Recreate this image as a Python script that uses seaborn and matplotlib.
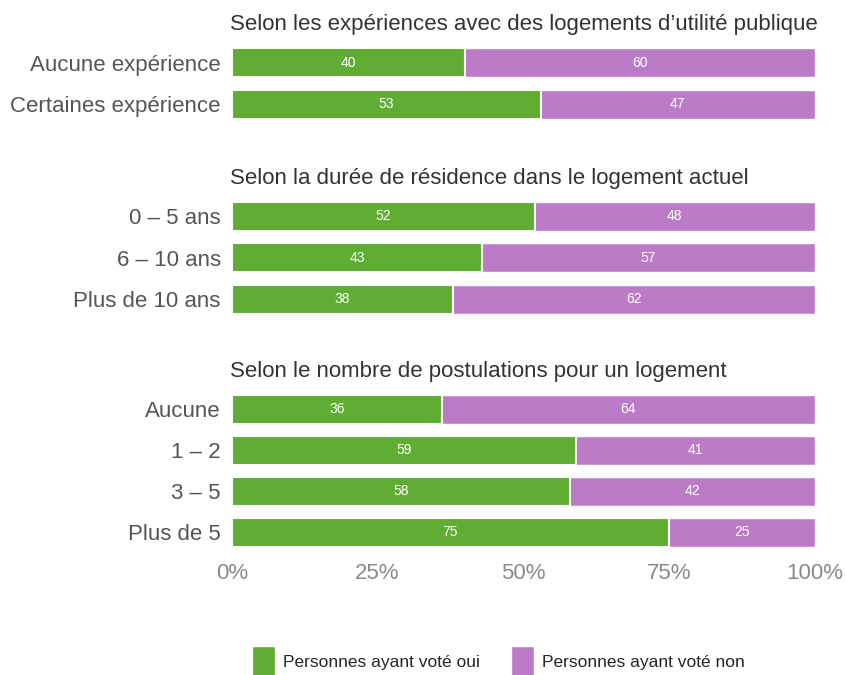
import matplotlib
matplotlib.use("Agg")
import matplotlib.pyplot as plt
from matplotlib.patches import Patch
import pandas as pd
import seaborn as sns

# ---------------------------------------------------------------------------
# Data
# ---------------------------------------------------------------------------
group_titles = [
    "Selon les expériences avec des logements d\u2019utilité publique",
    "Selon la durée de résidence dans le logement actuel",
    "Selon le nombre de postulations pour un logement",
]
group_cats = [
    ["Aucune expérience", "Certaines expérience"],
    ["0 \u2013 5 ans", "6 \u2013 10 ans", "Plus de 10 ans"],
    ["Aucune", "1 \u2013 2", "3 \u2013 5", "Plus de 5"],
]
yes_vals = [[40, 53], [52, 43, 38], [36, 59, 58, 75]]
no_vals = [[60, 47], [48, 57, 62], [64, 41, 42, 25]]
x_ticks = [0, 25, 50, 75, 100]
x_ticklabels = ["0%", "25%", "50%", "75%", "100%"]
legend_labels = ["Personnes ayant voté oui", "Personnes ayant voté non"]

GREEN = "#60AD34"
PURPLE = "#BB7BC6"
LABEL = "#555555"
TITLE = "#333333"
FS = 16

sns.set_style("white")
plt.rcParams["font.family"] = ["Liberation Sans", "DejaVu Sans"]

fig = plt.figure(figsize=(8.46, 6.75), dpi=100)
fig.patch.set_facecolor("white")

# axes boxes in figure fraction: [left, bottom, width, height]
boxes = [
    [0.274, 0.815, 0.689, 0.123],
    [0.274, 0.526, 0.689, 0.184],
    [0.274, 0.181, 0.689, 0.243],
]

for k, (title, cats, yes, no) in enumerate(zip(group_titles, group_cats, yes_vals, no_vals)):
    ax = fig.add_axes(boxes[k])
    df = pd.DataFrame({"cat": cats, "yes": yes, "no": no})
    df["total"] = df["yes"] + df["no"]

    sns.barplot(data=df, x="total", y="cat", orient="h", color=PURPLE,
                width=0.70, saturation=1, ax=ax)
    sns.barplot(data=df, x="yes", y="cat", orient="h", color=GREEN,
                width=0.70, saturation=1, edgecolor="white", linewidth=1.5, ax=ax)

    for i, row in df.iterrows():
        ax.text(row["yes"] / 2, i, str(row["yes"]), ha="center", va="center",
                color="white", fontsize=10)
        ax.text(row["yes"] + row["no"] / 2, i, str(row["no"]), ha="center",
                va="center", color="white", fontsize=10)

    ax.set_xlim(0, 100)
    ax.set_ylim(len(cats) - 0.5, -0.5)
    ax.set_xlabel("")
    ax.set_ylabel("")
    sns.despine(ax=ax, left=True, bottom=True)
    ax.tick_params(axis="y", length=0, pad=8, labelsize=FS, labelcolor=LABEL)
    if k == 2:
        ax.set_xticks(x_ticks)
        ax.set_xticklabels(x_ticklabels)
        ax.tick_params(axis="x", length=0, pad=7, labelsize=FS, labelcolor="#8a8a8a")
    else:
        ax.set_xticks([])

    ax.annotate(title, xy=(0, 1), xycoords="axes fraction", xytext=(-1, 5),
                textcoords="offset points", ha="left", va="bottom",
                fontsize=FS, color=TITLE)

handles = [Patch(facecolor=GREEN, label=legend_labels[0]),
           Patch(facecolor=PURPLE, label=legend_labels[1])]
fig.legend(handles=handles, loc="center", bbox_to_anchor=(0.589, 0.02), ncol=2,
           frameon=False, fontsize=12.5, handlelength=1.35, handleheight=2.3,
           columnspacing=1.8, handletextpad=0.45)

fig.savefig("out.png", dpi=100, facecolor="white")
